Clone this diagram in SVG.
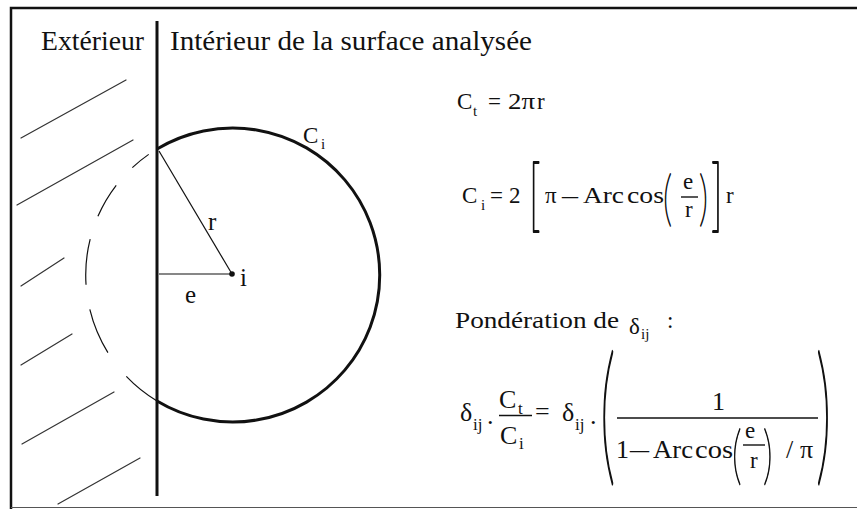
<svg xmlns="http://www.w3.org/2000/svg" width="857" height="509" viewBox="0 0 857 509">
<style>
text{font-family:"Liberation Serif","Times New Roman",serif;fill:#111}
.h{font-size:27px}
.f{font-size:23px}
.g{font-size:26px}
.s{font-size:15px}
.s2{font-size:17px}
.lbl{font-size:25px}
.d{font-family:Lato,"DejaVu Sans",sans-serif;font-weight:200;stroke:#111;stroke-linejoin:round}
.hatch{stroke:#333;stroke-width:1.2;fill:none;stroke-linecap:round}
.thin{stroke:#111;stroke-width:1.2;fill:none}
.frac{stroke:#111;stroke-width:1.4}
</style>
<rect width="857" height="509" fill="#fff"/>
<g id="frame">
<path d="M11,509 V8 H857" fill="none" stroke="#111" stroke-width="2.5"/>
<line x1="11" y1="507.5" x2="857" y2="507.5" stroke="#555" stroke-width="1"/>
</g>
<g id="divider">
<line x1="157" y1="21" x2="157" y2="496" stroke="#111" stroke-width="3"/>
</g>
<g id="hatching">
<line class="hatch" x1="21" y1="138" x2="126" y2="80"/>
<line class="hatch" x1="17" y1="205" x2="133" y2="140"/>
<line class="hatch" x1="21" y1="286" x2="64" y2="258"/>
<line class="hatch" x1="21" y1="365" x2="72" y2="334"/>
<line class="hatch" x1="22" y1="444" x2="114" y2="392"/>
<line class="hatch" x1="58" y1="504" x2="140" y2="458"/>
</g>
<g id="circle">
<path d="M157,149 A147,147 0 0 0 157,401" class="thin" stroke-dasharray="0 10 21 24 36 24 46 25 47 30 42 30"/>
<path d="M157,149 A147,147 0 1 1 157,401" fill="none" stroke="#111" stroke-width="3"/>
<line class="thin" x1="159" y1="151" x2="232" y2="274"/>
<line class="thin" x1="159" y1="274" x2="232" y2="274" stroke-width="1"/>
<circle cx="232" cy="274" r="2.8" fill="#111"/>
</g>
<g id="labels">
<text class="h" x="41" y="50" textLength="103" lengthAdjust="spacingAndGlyphs">Extérieur</text>
<text class="h" x="170" y="50" textLength="362" lengthAdjust="spacingAndGlyphs">Intérieur de la surface analysée</text>
<text class="lbl" x="208" y="230">r</text>
<text class="lbl" x="185" y="303">e</text>
<text class="lbl" x="240" y="286">i</text>
<text class="f" x="303" y="143">C</text>
<text class="s" x="321" y="149">i</text>
</g>
<g id="formula-ct">
<text class="f" x="457" y="109">C</text>
<text class="s" x="473" y="116">t</text>
<text class="f" x="488" y="109">=</text>
<text class="f" x="508" y="109" textLength="27" lengthAdjust="spacingAndGlyphs">2π</text>
<text class="f" x="537" y="109">r</text>
</g>
<g id="formula-ci">
<text class="f" x="462" y="203">C</text>
<text class="s" x="481" y="210">i</text>
<text class="f" x="490" y="203">=</text>
<text class="f" x="509" y="203">2</text>
<text class="d" transform="translate(529,221.5) scale(0.5,1)" style="font-size:80px;stroke-width:2.4">[</text>
<text class="f" x="545" y="203">π</text>
<text class="f" x="562" y="203" textLength="16" lengthAdjust="spacingAndGlyphs">–</text>
<text class="f" x="583" y="203" textLength="41" lengthAdjust="spacingAndGlyphs">Arc</text>
<text class="f" x="627" y="203" textLength="37" lengthAdjust="spacingAndGlyphs">cos</text>
<text class="d" transform="translate(663,219) scale(0.6,1)" style="font-size:60px;stroke-width:1.4">(</text>
<text class="f" x="683" y="189">e</text>
<line class="frac" x1="681" y1="197" x2="698" y2="197"/>
<text class="f" x="685" y="217">r</text>
<text class="d" transform="translate(699,219) scale(0.6,1)" style="font-size:60px;stroke-width:1.4">)</text>
<text class="d" transform="translate(711,221.5) scale(0.5,1)" style="font-size:80px;stroke-width:2.4">]</text>
<text class="f" x="726" y="203">r</text>
</g>
<g id="ponderation">
<text class="f" x="455" y="328" textLength="164" lengthAdjust="spacingAndGlyphs">Pondération de</text>
<text class="f" x="629" y="334">δ</text>
<text class="s" x="641" y="339">ij</text>
<text class="f" x="667" y="328">:</text>
</g>
<g id="formula-delta">
<text class="g" x="460" y="421">δ</text>
<text class="s2" x="473" y="430">ij</text>
<text class="g" x="487" y="424">.</text>
<text class="g" x="499" y="408">C</text>
<text class="s2" x="518" y="414">t</text>
<line class="frac" x1="499" y1="415.5" x2="532" y2="415.5"/>
<text class="g" x="500" y="444">C</text>
<text class="s2" x="519" y="449">i</text>
<text class="g" x="535" y="420">=</text>
<text class="g" x="562" y="421">δ</text>
<text class="s2" x="575" y="430">ij</text>
<text class="g" x="590" y="424">.</text>
<text class="d" transform="translate(600,466) scale(0.4,1)" style="font-size:152px;stroke-width:2.8">(</text>
<text class="g" x="712" y="410">1</text>
<line class="frac" x1="617" y1="418" x2="818" y2="418"/>
<text class="g" x="616" y="458">1</text>
<text class="g" x="630" y="458" textLength="19" lengthAdjust="spacingAndGlyphs">–</text>
<text class="g" x="653" y="458" textLength="40" lengthAdjust="spacingAndGlyphs">Arc</text>
<text class="g" x="695" y="458" textLength="38" lengthAdjust="spacingAndGlyphs">cos</text>
<text class="d" transform="translate(732,477) scale(0.6,1)" style="font-size:64px;stroke-width:1.4">(</text>
<text class="f" x="745" y="438">e</text>
<line class="frac" x1="743" y1="445" x2="765" y2="445"/>
<text class="f" x="750" y="468">r</text>
<text class="d" transform="translate(763,477) scale(0.6,1)" style="font-size:64px;stroke-width:1.4">)</text>
<text class="g" x="786" y="458">/</text>
<text class="g" x="800" y="458">π</text>
<text class="d" transform="translate(816,466) scale(0.4,1)" style="font-size:152px;stroke-width:2.8">)</text>
</g>
</svg>
